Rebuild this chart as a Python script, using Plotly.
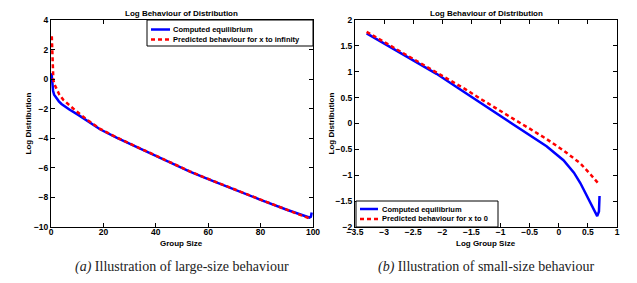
import plotly.graph_objects as go

# ---- Left panel: Log behaviour (large-size) ----
left_blue_x = [0.2, 0.3, 0.5, 0.8, 1.2, 1.7, 2.2, 3, 4, 5.3, 7, 10.4, 13.6, 18.7, 25, 32.7, 40,
               46.7, 53, 60.7, 70, 80, 90, 95, 98.6, 99.2, 99.5]
left_blue_y = [0.4, 0.1, -0.5, -0.8, -1.05, -1.2, -1.3, -1.5, -1.68, -1.86, -2.05, -2.42, -2.8,
               -3.39, -3.96, -4.6, -5.22, -5.77, -6.25, -6.81, -7.48, -8.16, -8.83, -9.14, -9.36, -9.3, -9.02]
left_red_x = [0.3, 0.4, 0.5, 0.65, 0.9, 1.3, 2.2, 3.2, 4.7, 6.5, 9.2, 13.6, 18.7, 25, 32.7, 40,
              46.7, 53, 60.7, 70, 80, 90, 95, 98.6, 99.1]
left_red_y = [2.9, 2.0, 1.3, 0.5, -0.05, -0.35, -0.73, -1.05, -1.4, -1.7, -2.1, -2.72, -3.36,
              -3.94, -4.58, -5.2, -5.75, -6.24, -6.8, -7.47, -8.15, -8.83, -9.16, -9.40, -9.45]

# ---- Right panel: Log behaviour (small-size) ----
right_blue_x = [-3.3, -2.9, -2.44, -2.1, -1.75, -1.35, -1.05, -0.78, -0.5, -0.21, 0.08, 0.26,
                0.37, 0.54, 0.6, 0.66, 0.69, 0.70]
right_blue_y = [1.74, 1.48, 1.19, 0.96, 0.70, 0.40, 0.18, -0.02, -0.22, -0.44, -0.71, -0.95,
                -1.15, -1.52, -1.66, -1.79, -1.7, -1.40]
right_red_x = [-3.3, -2.9, -2.44, -2.0, -1.6, -1.32, -1.05, -0.78, -0.5, -0.21, 0.08, 0.37, 0.55, 0.68]
right_red_y = [1.77, 1.51, 1.22, 0.93, 0.66, 0.46, 0.27, 0.09, -0.10, -0.30, -0.52, -0.77, -0.99, -1.16]

left_xticks = [0, 20, 40, 60, 80, 100]
left_yticks = [-10, -8, -6, -4, -2, 0, 2, 4]
right_xticks = [-3.5, -3, -2.5, -2, -1.5, -1, -0.5, 0, 0.5, 1]
right_yticks = [-2, -1.5, -1, -0.5, 0, 0.5, 1, 1.5, 2]

title_text = "Log Behaviour of Distribution"
blue_name = "Computed equilibrium"
red_left_name = "Predicted behaviour for x to infinity"
red_right_name = "Predicted behaviour for x to 0"

BLUE = "#0000ff"
RED = "#ff0000"
DASH = "4px,3px"
OFF = 8  # default page body margin
W, H = 637 - OFF, 283 - OFF


def px(x):
    return (x - OFF) / W


def py(y):
    return 1 - (y - OFF) / H


fig = go.Figure()
fig.add_trace(go.Scatter(x=left_blue_x, y=left_blue_y, mode="lines", name=blue_name,
                         line=dict(color=BLUE, width=2.5), xaxis="x", yaxis="y"))
fig.add_trace(go.Scatter(x=left_red_x, y=left_red_y, mode="lines", name=red_left_name,
                         line=dict(color=RED, width=2.5, dash=DASH), xaxis="x", yaxis="y"))
fig.add_trace(go.Scatter(x=right_blue_x, y=right_blue_y, mode="lines", name=blue_name,
                         line=dict(color=BLUE, width=2.5), xaxis="x2", yaxis="y2"))
fig.add_trace(go.Scatter(x=right_red_x, y=right_red_y, mode="lines", name=red_right_name,
                         line=dict(color=RED, width=2.5, dash=DASH), xaxis="x2", yaxis="y2"))

tickfont = dict(family="Liberation Sans, Arial", size=8.5, color="black", weight="bold")
ax_common = dict(showline=True, linecolor="black", linewidth=1, mirror="ticks", ticks="inside",
                 ticklen=4, tickcolor="black", showgrid=False, zeroline=False, tickfont=tickfont,
                 automargin=False)

ytop = py(20)
ybot = py(227)
fig.update_layout(
    width=W, height=H, margin=dict(l=0, r=0, t=0, b=0),
    paper_bgcolor="white", plot_bgcolor="white", showlegend=False,
    xaxis=dict(domain=[px(51), px(313)], range=[0, 100], tickvals=left_xticks, anchor="y",
               ticklabelstandoff=-3, **ax_common),
    yaxis=dict(domain=[ybot, ytop], range=[-10, 4], tickvals=left_yticks, anchor="x", **ax_common),
    xaxis2=dict(domain=[px(355), px(617)], range=[-3.5, 1], tickvals=right_xticks, anchor="y2",
                ticklabelstandoff=-3, **ax_common),
    yaxis2=dict(domain=[ybot, ytop], range=[-2, 2], tickvals=right_yticks, anchor="x2", **ax_common),
)

lab_font = dict(family="Liberation Sans, Arial", size=8, color="black", weight="bold")
leg_font = dict(family="Liberation Sans, Arial", size=7.5, color="black", weight="bold")
cap_font = dict(family="Liberation Serif, Times New Roman, serif", size=14, color="#222222")
ann = []
shapes = []
for cx, xl, cap in [((51 + 313) / 2, "Group Size", "<i>(a)</i> Illustration of large-size behaviour"),
                    ((355 + 617) / 2, "Log Group Size", "<i>(b)</i> Illustration of small-size behaviour")]:
    ann.append(dict(x=px(cx), y=py(8), xref="paper", yref="paper", text=title_text, borderpad=0,
                    showarrow=False, font=lab_font, xanchor="center", yanchor="top"))
    ann.append(dict(x=px(cx), y=py(243), xref="paper", yref="paper", text=xl, borderpad=0,
                    showarrow=False, font=lab_font, xanchor="center", yanchor="middle"))
    ann.append(dict(x=px(cx), y=py(267), xref="paper", yref="paper", text=cap,
                    showarrow=False, font=cap_font, xanchor="center", yanchor="middle"))
for lx in [28, 331]:
    ann.append(dict(x=px(lx), y=(ybot + ytop) / 2, xref="paper", yref="paper", text="Log Distribution",
                    showarrow=False, font=lab_font, textangle=-90, xanchor="center", yanchor="middle"))

# Manual legends (box, sample lines, labels)
for (bx0, by0, bx1, by1, lx0, lx1, tx, rows) in [
        (147, 20, 313, 46, 151, 170, 171, [(29.5, blue_name, BLUE, "solid"), (39.5, red_left_name, RED, DASH)]),
        (356, 201, 498, 227, 360, 378, 380, [(209, blue_name, BLUE, "solid"), (219, red_right_name, RED, DASH)])]:
    shapes.append(dict(type="rect", xref="paper", yref="paper", x0=px(bx0), x1=px(bx1), y0=py(by1), y1=py(by0),
                       line=dict(color="black", width=1), fillcolor="white", layer="above"))
    for (ry, name, col, dash) in rows:
        shapes.append(dict(type="line", xref="paper", yref="paper", x0=px(lx0), x1=px(lx1), y0=py(ry), y1=py(ry),
                           line=dict(color=col, width=2.5, dash=dash), layer="above"))
        ann.append(dict(x=px(tx), y=py(ry), xref="paper", yref="paper", text=name, showarrow=False,
                        font=leg_font, xanchor="left", yanchor="middle"))

fig.update_layout(annotations=ann, shapes=shapes)

fig.write_html("out.html")
